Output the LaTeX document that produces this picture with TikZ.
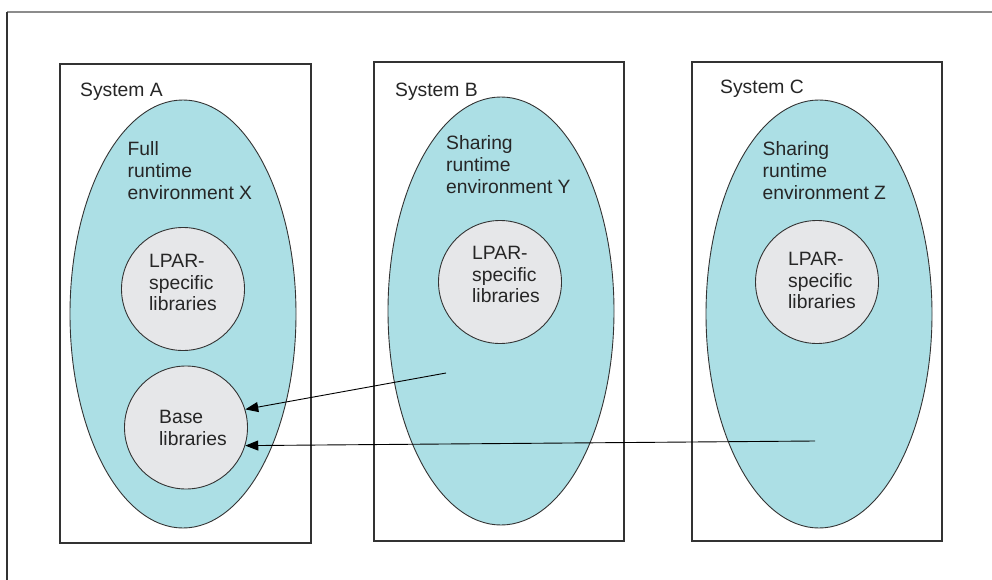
\documentclass[tikz,border=0pt]{standalone}
\usepackage{fontspec}
\setmainfont{Liberation Sans}
\usetikzlibrary{shapes.geometric,arrows.meta}
\definecolor{envfill}{RGB}{172,223,229}
\definecolor{libfill}{RGB}{230,231,233}
\definecolor{linecol}{RGB}{51,51,51}
\definecolor{framegray}{RGB}{140,140,140}
\begin{document}
\begin{tikzpicture}[x=1pt,y=-1pt,
  sysbox/.style={draw=linecol,line width=1.2pt},
  envell/.style={ellipse,draw=linecol,fill=envfill,line width=0.9pt,inner sep=0pt,minimum width=226pt,minimum height=428pt},
  libcirc/.style={circle,draw=linecol,fill=libfill,line width=0.9pt,inner sep=0pt,minimum size=123pt},
  txt/.style={anchor=north west,inner sep=0pt,align=left,font=\fontsize{19.3}{21.7}\selectfont,text=black!85},
  arr/.style={draw=black,line width=0.9pt,-{Triangle[length=13pt,width=10pt]}}
]
\useasboundingbox (0,0) rectangle (992,580);
\fill[white] (0,0) rectangle (992,580);
% outer frame
\draw[framegray,line width=1.8pt] (7,12) -- (992,12);
\draw[linecol,line width=1.4pt] (7,12) -- (7,580);
% system boxes
\draw[sysbox] (60,64) rectangle (311,543);
\draw[sysbox] (374,62) rectangle (624,541);
\draw[sysbox] (692,62) rectangle (942,541);
% environments
\node[envell] (ea) at (183,314) {};
\node[envell] (eb) at (501,311) {};
\node[envell] (ec) at (819,314) {};
% libraries
\node[libcirc] (lpa) at (183,289) {};
\node[libcirc] (lpb) at (500,282) {};
\node[libcirc] (lpc) at (817,282) {};
\node[libcirc] (base) at (186,427.5) {};
% texts
\node[txt] (ta) at (80,83.3) {System A};
\node[txt] (tb) at (395,83) {System B};
\node[txt] (tc) at (720,79.5) {System C};
\node[txt] (xa) at (127.5,141.5) {Full\\runtime\\environment X};
\node[txt] (xb) at (446,135.5) {Sharing\\runtime\\environment Y};
\node[txt] (xc) at (762.5,141.5) {Sharing\\runtime\\environment Z};
\node[txt] (la) at (149,254) {LPAR-\\specific\\libraries};
\node[txt] (lb) at (472,246) {LPAR-\\specific\\libraries};
\node[txt] (lc) at (788,252) {LPAR-\\specific\\libraries};
\node[txt] (ba) at (159,410) {Base\\libraries};
% connectors
\coordinate (sb) at (446,373);
\coordinate (sc) at (815,441);
\draw[arr] (sb) -- (base.17);
\draw[arr] (sc) -- (base.-17);
\end{tikzpicture}
\end{document}
